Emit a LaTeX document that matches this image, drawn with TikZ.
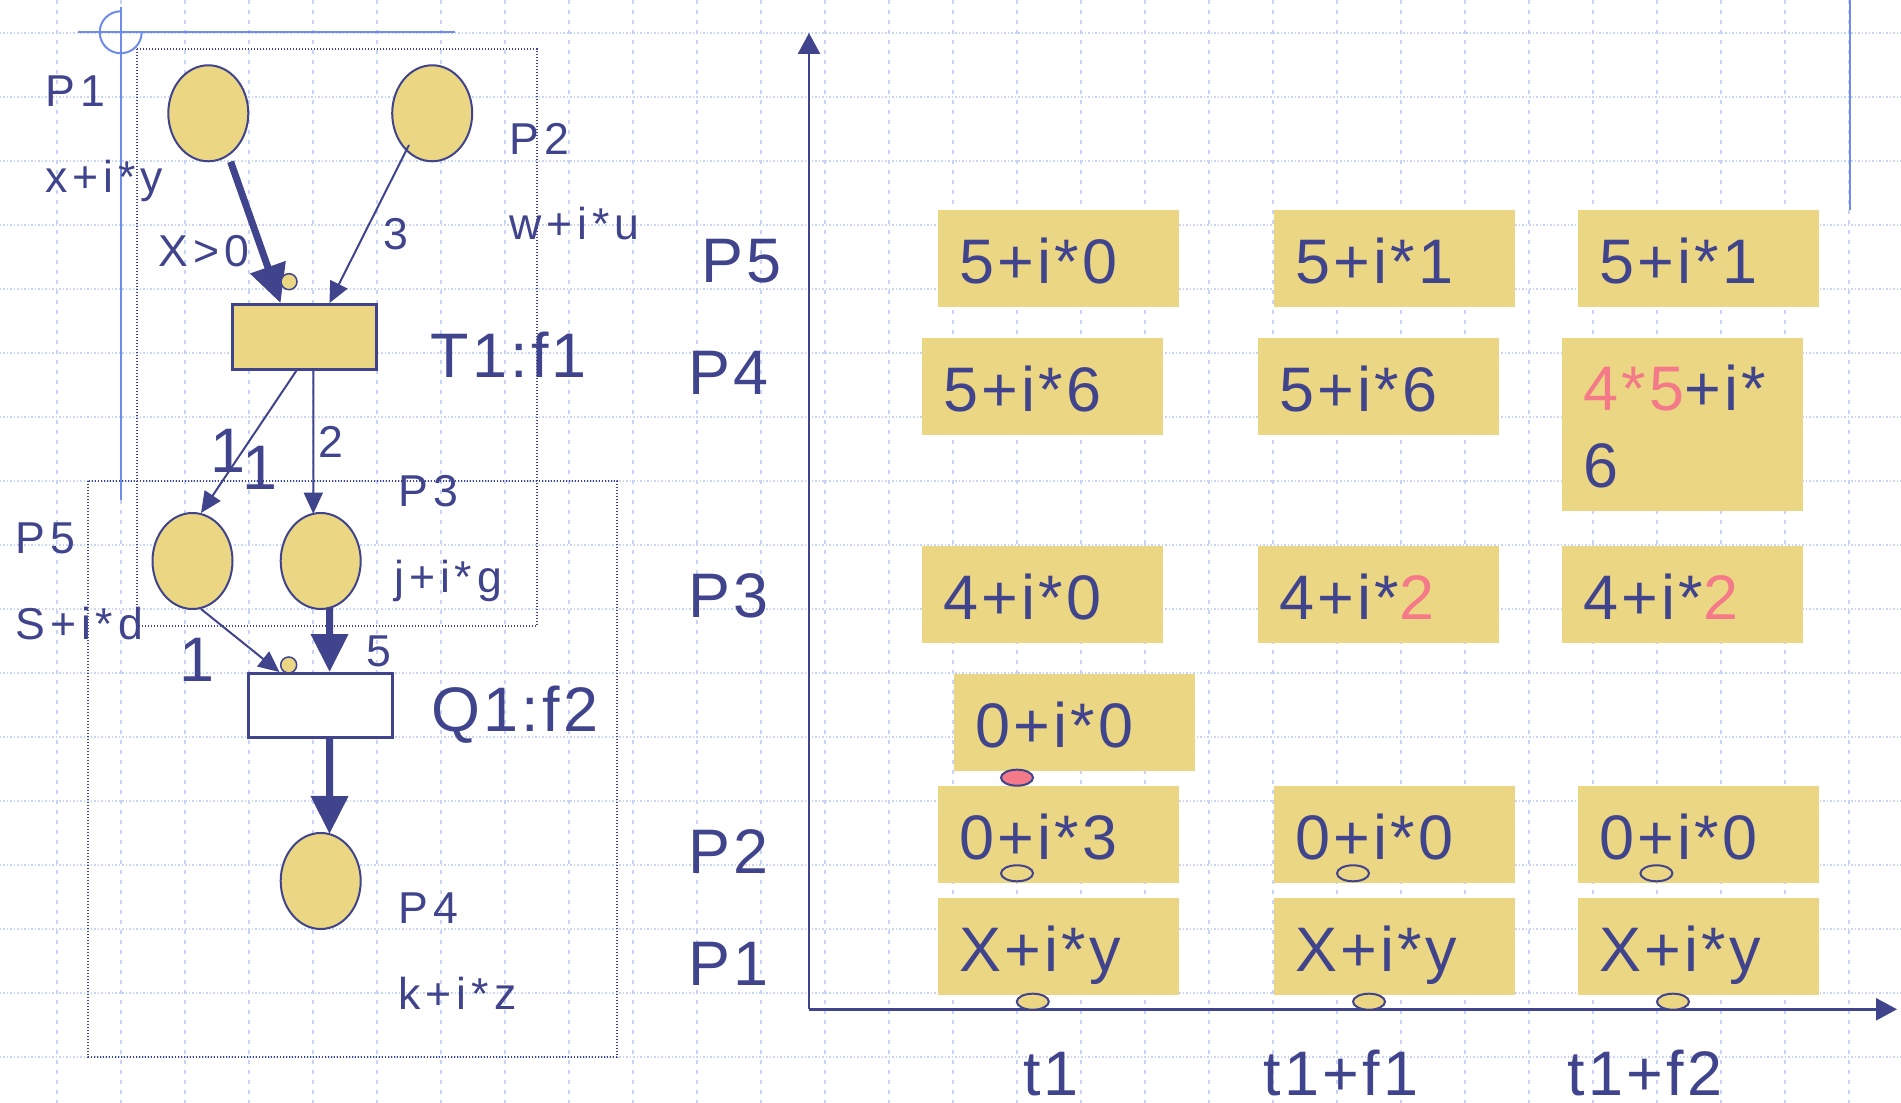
\documentclass[tikz,border=0pt]{standalone}
\usepackage{fontspec}
\setmainfont{Liberation Sans}[LetterSpace=5]
\newfontfamily\smfam{Liberation Sans}[LetterSpace=11]
\usetikzlibrary{shapes.geometric,arrows.meta,calc}
\definecolor{navy}{RGB}{64,68,140}
\definecolor{ylw}{RGB}{234,214,131}
\definecolor{pnk}{RGB}{244,122,138}
\definecolor{gridc}{RGB}{200,212,245}
\definecolor{crossc}{RGB}{110,140,235}
\newcommand\bigf{\fontsize{17.9pt}{21.8pt}\selectfont}
\newcommand\smf{\smfam\fontsize{12.7pt}{15pt}\selectfont}
\newcommand\pk[1]{\textcolor{pnk}{#1}}
\begin{document}
\begin{tikzpicture}[x=0.1mm,y=-0.1mm,
  place/.style={ellipse,draw=navy,fill=ylw,line width=0.2mm,minimum width=8mm,minimum height=9.6mm,inner sep=0},
  trans/.style={rectangle,draw=navy,line width=0.25mm,minimum width=14.4mm,minimum height=6.5mm,inner sep=0},
  token/.style={circle,draw=navy,fill=ylw,line width=0.15mm,minimum size=1.6mm,inner sep=0},
  lab/.style={anchor=base west,inner sep=0,text=navy},
  sl/.style={lab,font=\smf},
  bl/.style={lab,font=\bigf},
  cell/.style={anchor=north west,rectangle,fill=ylw,text=navy,font=\bigf,inner xsep=2.2mm,inner ysep=0,text width=19.7mm,align=left,minimum height=9.7mm,text height=5mm,text depth=0mm},
  thinarc/.style={draw=navy,line width=0.2mm,-{Triangle[length=2.1mm,width=1.9mm]}},
  thickarc/.style={draw=navy,line width=0.7mm,-{Triangle[length=3.8mm,width=3.6mm]}},
  oval/.style={ellipse,draw=navy,line width=0.2mm,minimum width=3.2mm,minimum height=1.6mm,inner sep=0},
  hgrid/.style={draw=gridc,line width=0.2mm,dash pattern=on 0.15mm off 0.2mm},
  vgrid/.style={draw=gridc,line width=0.2mm,dash pattern=on 0.4mm off 0.6mm},
  cross/.style={draw=crossc,line width=0.2mm},
  dotbox/.style={draw=navy,line width=0.15mm,dash pattern=on 0.15mm off 0.15mm},
  axis/.style={draw=navy,line width=0.25mm,-{Triangle[length=2.1mm,width=2.2mm]}}
]
\useasboundingbox (0,0) rectangle (1901,1103);
\fill[white] (0,0) rectangle (1901,1103);
% background grid
\foreach \k in {0,...,16} \draw[hgrid] (0,{33+64*\k}) -- (1901,{33+64*\k});
\foreach \k in {0,...,28} \draw[vgrid] ({57+64*\k},0) -- ({57+64*\k},1103);
% crosshair and guide lines
\draw[cross] (78,32.3) -- (455,32.3);
\draw[cross] (120.7,7) -- (120.7,500);
\draw[cross] (141.7,32.3) arc[start angle=0,end angle=270,radius=21];
\draw[cross] (1849.6,0) -- (1849.6,210);
% dotted frames
\draw[dotbox] (137,49) rectangle (537,626);
\draw[dotbox] (88,481) rectangle (617,1057);
% Petri net
\node[place] (pP1) at (208.3,113.3) {};
\node[place] (pP2) at (432.2,113.3) {};
\node[trans,fill=ylw] (tT1) at (304.7,336.8) {};
\node[place] (pP5) at (192.5,561) {};
\node[place] (pP3) at (320.7,561) {};
\node[trans,fill=white,minimum height=6.4mm] (tQ1) at (320.5,705.3) {};
\node[place] (pP4) at (320.7,881) {};
\draw[thickarc] ($(pP1)+(22.3,48.4)$) -- ($(tT1.north west)!0.335!(tT1.north east)$);
\draw[thinarc] ($(pP2)+(-23.2,31.7)$) -- ($(tT1.north west)!0.669!(tT1.north east)$);
\draw[thinarc] ($(tT1.south west)!0.444!(tT1.south east)$) -- ($(pP5)+(8.5,-48)$);
\draw[thinarc] ($(tT1.south west)!0.5597!(tT1.south east)$) -- ($(pP3)+(-7.4,-47.3)$);
\draw[thinarc] ($(pP5)+(8.5,48)$) -- ($(tQ1.north west)!0.22!(tQ1.north east)$);
\draw[thickarc] ($(pP3)+(8.8,47)$) -- ($(tQ1.north west)!0.562!(tQ1.north east)$);
\draw[thickarc] ($(tQ1.south west)!0.562!(tQ1.south east)$) -- ($(pP4)+(8.8,-47)$);
\node[token] (tok1) at (289,281.7) {};
\node[token] (tok2) at (288.7,665) {};
% left labels
\node[sl] (lP1) at (45,107) {P1};
\node[sl] (lP1m) at (45,192.7) {x+i*y};
\node[sl] (lP2) at (509,155) {P2};
\node[sl] (lP2m) at (509,240) {w+i*u};
\node[sl] (lg) at (158,267) {X>0};
\node[sl] (lw3) at (383,250) {3};
\node[bl] (lT1) at (430,378) {T1:f1};
\node[bl] (lw1a) at (210,473) {1};
\node[bl] (lw1b) at (242,490) {1};
\node[sl] (lw2) at (318,458) {2};
\node[sl] (lP3) at (398,507) {P3};
\node[sl] (lP3m) at (393.5,592.7) {j+i*g};
\node[sl] (lP5) at (14.7,554) {P5};
\node[sl] (lP5m) at (14.7,640) {S+i*d};
\node[bl] (lw1c) at (179,681.7) {1};
\node[sl] (lw5) at (366,667) {5};
\node[bl] (lQ1) at (431,731.7) {Q1:f2};
\node[sl] (lP4) at (398,924) {P4};
\node[sl] (lP4m) at (398,1010) {k+i*z};
% chart
\coordinate (O) at (809,1009.3);
\coordinate (ytop) at (809,33);
\coordinate (xend) at (1897,1009.3);
\draw[axis] (O) -- (ytop);
\draw[axis] (O) -- (xend);
\node[bl] (rP5) at (701,283) {P5};
\node[bl] (rP4) at (688,395) {P4};
\node[bl] (rP3) at (688,618) {P3};
\node[bl] (rP2) at (688,874) {P2};
\node[bl] (rP1) at (688,986) {P1};
\node[bl] (tA) at (1022.5,1095) {t1};
\node[bl] (tB) at (1263,1095) {t1+f1};
\node[bl] (tC) at (1567,1095) {t1+f2};
\node[cell] (c51) at (937,209) {5+i*0};
\node[cell] (c52) at (1273,209) {5+i*1};
\node[cell] (c53) at (1577,209) {5+i*1};
\node[cell] (c41) at (921,337) {5+i*6};
\node[cell] (c42) at (1257,337) {5+i*6};
\node[cell,minimum height=17.3mm,text height=5mm,text depth=7.7mm] (c43) at (1561,337) {\pk{4*5}+i*\\6};
\node[cell] (c31) at (921,545) {4+i*0};
\node[cell] (c32) at (1257,545) {4+i*\pk{2}};
\node[cell] (c33) at (1561,545) {4+i*\pk{2}};
\node[cell] (cx) at (953,673) {0+i*0};
\node[cell] (c21) at (937,785) {0+i*3};
\node[cell] (c22) at (1273,785) {0+i*0};
\node[cell] (c23) at (1577,785) {0+i*0};
\node[cell] (c11) at (937,897) {X+i*y};
\node[cell] (c12) at (1273,897) {X+i*y};
\node[cell] (c13) at (1577,897) {X+i*y};
\node[oval,fill=pnk] (red) at (1017,777.7) {};
\node[oval] (o1) at (1017,873.3) {};
\node[oval] (o2) at (1353,873.3) {};
\node[oval] (o3) at (1656.4,873.3) {};
\node[oval,fill=ylw] (y1) at (1032.8,1001.7) {};
\node[oval,fill=ylw] (y2) at (1369,1001.7) {};
\node[oval,fill=ylw] (y3) at (1673,1001.7) {};
\end{tikzpicture}
\end{document}
